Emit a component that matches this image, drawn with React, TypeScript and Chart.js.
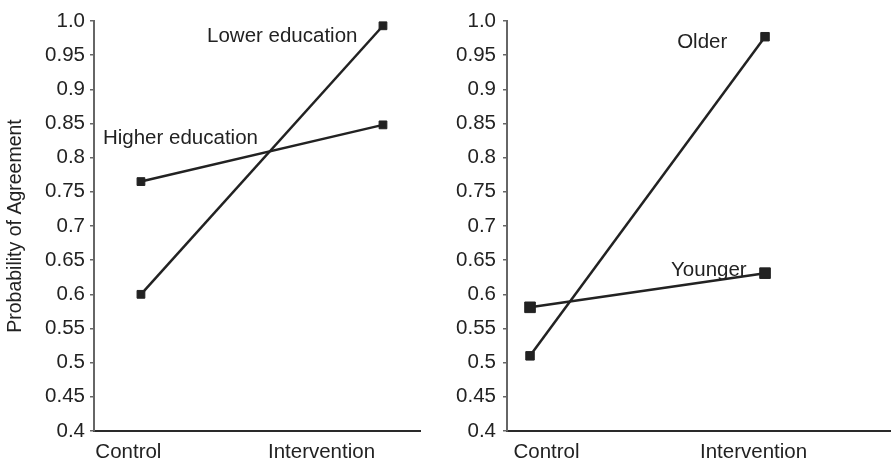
import React, { useEffect, useRef } from 'react';
import { Chart, registerables } from 'chart.js';

Chart.register(...registerables);

// ---------- data ----------
const CATEGORIES = ['Control', 'Intervention'];
const Y_TICK_VALUES = [0.4, 0.45, 0.5, 0.55, 0.6, 0.65, 0.7, 0.75, 0.8, 0.85, 0.9, 0.95, 1.0];
const Y_TICK_LABELS = ['0.4', '0.45', '0.5', '0.55', '0.6', '0.65', '0.7', '0.75', '0.8', '0.85', '0.9', '0.95', '1.0'];

const LOWER_EDUCATION = [0.6, 0.993];
const HIGHER_EDUCATION = [0.765, 0.848];
const OLDER = [0.51, 0.977];
const YOUNGER = [0.581, 0.631];

const Y_TITLE = 'Probability of Agreement';

// ---------- styles ----------
const FONT_FAMILY = '"Liberation Sans", Arial, Helvetica, sans-serif';
const FONT_SIZE = 20.5;
const TITLE_FONT_SIZE = 19.5;
const TEXT_COLOR = '#222';
const LINE_COLOR = '#222';

type LabelSpec = { text: string; x: number; y: number };

type PanelSpec = {
  width: number;
  yAxisWidth: number;
  rightPad: number;
  xMin: number;
  xMax: number;
  xLabelPos: number[];
  showTitle: boolean;
  series: { name: string; values: number[]; radius: number }[];
  labels: LabelSpec[];
};

const LEFT_PANEL: PanelSpec = {
  width: 440,
  yAxisWidth: 94,
  rightPad: 20,
  xMin: -0.194,
  xMax: 1.153,
  xLabelPos: [-0.052, 0.746],
  showTitle: true,
  series: [
    { name: 'Lower education', values: LOWER_EDUCATION, radius: 5.5 },
    { name: 'Higher education', values: HIGHER_EDUCATION, radius: 5.5 },
  ],
  labels: [
    { text: 'Lower education', x: 0.273, y: 0.969 },
    { text: 'Higher education', x: -0.157, y: 0.82 },
  ],
};

const RIGHT_PANEL: PanelSpec = {
  width: 451,
  yAxisWidth: 67,
  rightPad: 0,
  xMin: -0.098,
  xMax: 1.536,
  xLabelPos: [0.07, 0.951],
  showTitle: false,
  series: [
    { name: 'Older', values: OLDER, radius: 6 },
    { name: 'Younger', values: YOUNGER, radius: 7.5 },
  ],
  labels: [
    { text: 'Older', x: 0.626, y: 0.96 },
    { text: 'Younger', x: 0.6, y: 0.627 },
  ],
};

const HEIGHT = 462;

const labelPlugin = {
  id: 'seriesLabels',
  afterDatasetsDraw(chart: any, _args: any, opts: any) {
    const labels: LabelSpec[] = opts.labels || [];
    const ctx = chart.ctx;
    const xs = chart.scales.x;
    const ys = chart.scales.y;
    ctx.save();
    ctx.font = `${FONT_SIZE}px ${FONT_FAMILY}`;
    ctx.fillStyle = TEXT_COLOR;
    ctx.textAlign = 'left';
    ctx.textBaseline = 'alphabetic';
    for (const l of labels) {
      ctx.fillText(l.text, xs.getPixelForValue(l.x), ys.getPixelForValue(l.y));
    }
    ctx.restore();
  },
};

function Panel({ spec }: { spec: PanelSpec }) {
  const ref = useRef<HTMLCanvasElement | null>(null);
  useEffect(() => {
    if (!ref.current) return;
    const font = { family: FONT_FAMILY, size: FONT_SIZE };
    const chart = new Chart(ref.current, {
      type: 'line',
      data: {
        datasets: spec.series.map((s) => ({
          label: s.name,
          data: s.values.map((v, i) => ({ x: i, y: v })),
          borderColor: LINE_COLOR,
          backgroundColor: LINE_COLOR,
          borderWidth: 2.5,
          pointStyle: 'rect',
          pointRadius: s.radius,
          pointBorderWidth: 1,
          pointBorderColor: LINE_COLOR,
          pointBackgroundColor: LINE_COLOR,
          tension: 0,
          fill: false,
        })),
      },
      options: {
        animation: false,
        responsive: false,
        maintainAspectRatio: false,
        devicePixelRatio: 1,
        layout: {
          autoPadding: false,
          padding: { top: 21, right: spec.rightPad, bottom: 0, left: 0 },
        },
        plugins: {
          legend: { display: false },
          tooltip: { enabled: false },
          seriesLabels: { labels: spec.labels },
        } as any,
        scales: {
          x: {
            type: 'linear',
            min: spec.xMin,
            max: spec.xMax,
            afterBuildTicks: (scale: any) => {
              scale.ticks = spec.xLabelPos.map((v) => ({ value: v }));
            },
            afterFit: (scale: any) => {
              scale.height = HEIGHT - 431;
            },
            ticks: {
              color: TEXT_COLOR,
              font,
              padding: 9,
              maxRotation: 0,
              autoSkip: false,
              callback: (_v: any, i: number) => CATEGORIES[i],
            },
            grid: { display: false, drawTicks: false },
            border: { display: true, color: '#2a2a2a', width: 2 },
          },
          y: {
            type: 'linear',
            min: 0.4,
            max: 1.0,
            afterBuildTicks: (scale: any) => {
              scale.ticks = Y_TICK_VALUES.map((v) => ({ value: v }));
            },
            afterFit: (scale: any) => {
              scale.width = spec.yAxisWidth;
            },
            ticks: {
              color: TEXT_COLOR,
              font,
              padding: spec.showTitle ? 5 : 7,
              autoSkip: false,
              callback: (_v: any, i: number) => Y_TICK_LABELS[i],
            },
            grid: {
              display: true,
              drawOnChartArea: false,
              drawTicks: true,
              tickLength: 4,
              color: '#666',
              lineWidth: 1.5,
            },
            border: { display: true, color: '#666', width: 2 },
            title: {
              display: spec.showTitle,
              text: Y_TITLE,
              color: TEXT_COLOR,
              font: { family: FONT_FAMILY, size: TITLE_FONT_SIZE },
              padding: { top: 4, bottom: 0 },
            },
          },
        },
      } as any,
      plugins: [labelPlugin],
    });
    return () => chart.destroy();
  }, [spec]);
  return (
    <canvas
      ref={ref}
      width={spec.width}
      height={HEIGHT}
      style={{ width: spec.width, height: HEIGHT, display: 'block' }}
    />
  );
}

export default function App() {
  return (
    <div
      style={{
        position: 'absolute',
        left: 0,
        top: 0,
        width: 891,
        height: HEIGHT,
        display: 'flex',
        background: '#fff',
      }}
    >
      <Panel spec={LEFT_PANEL} />
      <Panel spec={RIGHT_PANEL} />
    </div>
  );
}
